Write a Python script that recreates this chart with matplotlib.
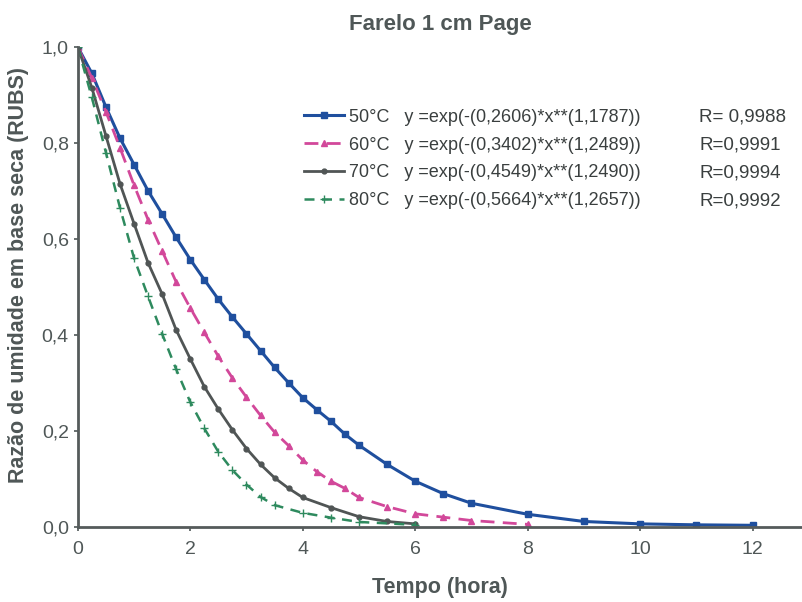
import matplotlib
matplotlib.use('Agg')
import matplotlib.pyplot as plt

plt.rcParams['font.family'] = ['Liberation Sans', 'DejaVu Sans']

# dados (tempo em horas, razao de umidade)
t50 = [0, 0.25, 0.5, 0.75, 1, 1.25, 1.5, 1.75, 2, 2.25, 2.5, 2.75, 3, 3.25, 3.5, 3.75,
       4, 4.25, 4.5, 4.75, 5, 5.5, 6, 6.5, 7, 8, 9, 10, 11, 12]
rubs50 = [1.0, 0.945, 0.875, 0.81, 0.755, 0.70, 0.652, 0.603, 0.557, 0.515, 0.474, 0.437,
          0.402, 0.367, 0.332, 0.300, 0.269, 0.244, 0.220, 0.193, 0.170, 0.130, 0.095,
          0.069, 0.049, 0.026, 0.011, 0.006, 0.004, 0.003]

t60 = [0, 0.25, 0.5, 0.75, 1, 1.25, 1.5, 1.75, 2, 2.25, 2.5, 2.75, 3, 3.25, 3.5, 3.75,
       4, 4.25, 4.5, 4.75, 5, 5.5, 6, 6.5, 7, 8]
rubs60 = [1.0, 0.935, 0.865, 0.79, 0.712, 0.64, 0.575, 0.51, 0.456, 0.405, 0.355, 0.31,
          0.27, 0.232, 0.197, 0.169, 0.139, 0.115, 0.095, 0.08, 0.061, 0.042, 0.027,
          0.02, 0.013, 0.005]

t70 = [0, 0.25, 0.5, 0.75, 1, 1.25, 1.5, 1.75, 2, 2.25, 2.5, 2.75, 3, 3.25, 3.5, 3.75,
       4, 4.5, 5, 5.5, 6]
rubs70 = [1.0, 0.915, 0.815, 0.715, 0.632, 0.55, 0.485, 0.41, 0.35, 0.292, 0.245, 0.202,
          0.163, 0.13, 0.102, 0.08, 0.061, 0.04, 0.021, 0.011, 0.006]

t80 = [0, 0.25, 0.5, 0.75, 1, 1.25, 1.5, 1.75, 2, 2.25, 2.5, 2.75, 3, 3.25, 3.5, 4,
       4.5, 5, 6]
rubs80 = [1.0, 0.895, 0.78, 0.665, 0.56, 0.48, 0.402, 0.328, 0.26, 0.205, 0.156, 0.118,
          0.088, 0.062, 0.045, 0.029, 0.019, 0.01, 0.004]

temps = ['50°C', '60°C', '70°C', '80°C']
equacoes = ['y =exp(-(0,2606)*x**(1,1787))', 'y =exp(-(0,3402)*x**(1,2489))',
            'y =exp(-(0,4549)*x**(1,2490))', 'y =exp(-(0,5664)*x**(1,2657))']
erres = ['R= 0,9988', 'R=0,9991', 'R=0,9994', 'R=0,9992']

cinza = '#4f5757'

fig = plt.figure(figsize=(8.02, 6.02), dpi=100)
ax = fig.add_axes([0.097, 0.125, 0.903, 0.797])

l1, = ax.plot(t50, rubs50, color='#1f4f9e', lw=2.2, ls='-', marker='s', ms=4)
l2, = ax.plot(t60, rubs60, color='#d2489a', lw=2.0, ls=(0, (5, 3)), marker='^', ms=4)
l3, = ax.plot(t70, rubs70, color='#505555', lw=2.0, ls='-', marker='o', ms=3.5)
l4, = ax.plot(t80, rubs80, color='#2e8a5e', lw=1.8, ls=(0, (4, 3)), marker='+', ms=6)

ax.set_xlim(0, 12.88)
ax.set_ylim(0, 1.0)
ax.set_xticks([0, 2, 4, 6, 8, 10, 12])
ax.set_yticks([0, 0.2, 0.4, 0.6, 0.8, 1.0])
ax.set_yticklabels(['0,0', '0,2', '0,4', '0,6', '0,8', '1,0'])
ax.tick_params(labelsize=14, colors=cinza, length=3, width=1.2)
ax.tick_params(axis='x', pad=7)

for s in ['top', 'right']:
    ax.spines[s].set_visible(False)
for s in ['left', 'bottom']:
    ax.spines[s].set_color('#555b5b')
    ax.spines[s].set_linewidth(2)

ax.set_title('Farelo 1 cm Page', fontsize=16, fontweight='bold', color=cinza, pad=12)
ax.set_xlabel('Tempo (hora)', fontsize=15.5, fontweight='bold', color=cinza, labelpad=14)
ax.set_ylabel('Razão de umidade em base seca (RUBS)', fontsize=15.5, fontweight='bold',
              color=cinza)
ax.yaxis.set_label_coords(-0.068, 0.525)

labels = [f'{a}   {b}' for a, b in zip(temps, equacoes)]
leg = ax.legend([l1, l2, l3, l4], labels, loc='upper left', bbox_to_anchor=(0.29, 0.905),
                frameon=False, fontsize=13, handlelength=2.2, handletextpad=0.3,
                labelspacing=0.6)
for txt in leg.get_texts():
    txt.set_color('#3a3f3f')

# valores de R alinhados com as linhas da legenda
fig.canvas.draw()
inv = ax.transAxes.inverted()
for txt, r in zip(leg.get_texts(), erres):
    bb = txt.get_window_extent()
    y = inv.transform((0, (bb.y0 + bb.y1) / 2))[1]
    ax.text(0.858, y, r, transform=ax.transAxes, fontsize=13.5, color='#3a3f3f',
            va='center', ha='left')

fig.savefig('out.png', dpi=100)
